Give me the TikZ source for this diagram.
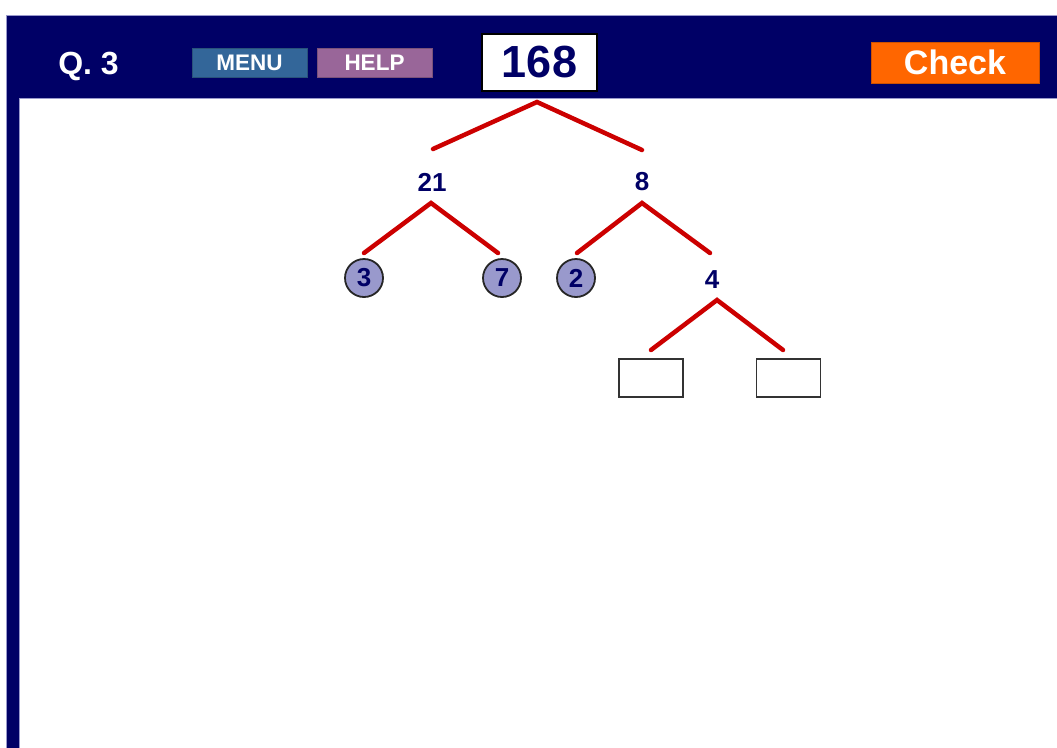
\documentclass[tikz,border=0pt]{standalone}
\usepackage{fontspec}
\setmainfont{Liberation Sans}
\definecolor{navy}{HTML}{000066}
\definecolor{menublue}{HTML}{336699}
\definecolor{helppurple}{HTML}{996699}
\definecolor{checkorange}{HTML}{FF6600}
\definecolor{treered}{HTML}{CC0000}
\definecolor{circfill}{HTML}{9999CC}
\definecolor{rim}{HTML}{9999CC}
\begin{document}
\begin{tikzpicture}[x=1pt,y=-1pt,
  btn/.style={minimum width=115pt,minimum height=29pt,inner sep=0pt,text=white,font=\bfseries\fontsize{22.5}{22.5}\selectfont,draw=#1!80!black,line width=0.6pt,fill=#1},
  branch/.style={treered,line width=4.5pt,line cap=round},
  num/.style={text=navy,font=\bfseries\fontsize{26}{26}\selectfont,inner sep=0pt},
  leaf/.style={circle,draw=black!85,line width=1.8pt,fill=circfill,minimum size=38pt,inner sep=0pt,text=navy,font=\bfseries\fontsize{26}{26}\selectfont},
  blank/.style={draw=black!80,line width=1.2pt,fill=white,minimum width=64pt,minimum height=38pt,inner sep=0pt}]
\useasboundingbox (0,0) rectangle (1057,747);
\fill[white] (0,0) rectangle (1057,747);
% frame
\fill[navy,draw=rim,line width=0.6pt] (6,15) rectangle (1060,750);
\fill[white,draw=rim,line width=0.6pt] (19,98) rectangle (1060,750);
% header
\node[text=white,font=\bfseries\fontsize{32}{32}\selectfont,inner sep=0pt,text depth=0pt] (q) at (88.5,63) {Q. 3};
\node[btn=menublue] (menu) at (249.5,62.5) {MENU};
\node[btn=helppurple] (help) at (374.5,62.5) {HELP};
\node[draw=black,line width=1.2pt,fill=white,minimum width=115pt,minimum height=57pt,inner sep=0pt,text=navy,font=\bfseries\fontsize{45}{45}\selectfont] (root) at (539.5,62.5) {168};
\node[fill=checkorange,draw=checkorange!80!black,line width=0.6pt,minimum width=168pt,minimum height=41pt,inner sep=0pt,text=white,font=\bfseries\fontsize{34}{34}\selectfont] (check) at (955,62.5) {Check};
% tree nodes
\node[num] (n21) at (432,182) {21};
\node[num] (n8) at (642,182) {8};
\node[leaf] (n3) at (364,278) {3};
\node[leaf] (n7) at (502,278) {7};
\node[leaf] (n2) at (576,278) {2};
\node[num] (n4) at (712,280) {4};
\node[blank] (b1) at (651,378) {};
\node[blank] (b2) at (788.5,378) {};
% branch points
\coordinate (a0) at (537,102);
\coordinate (e21) at (433,149);
\coordinate (e8) at (642,150);
\coordinate (a21) at (431,203);
\coordinate (e3) at (364,253);
\coordinate (e7) at (498,253);
\coordinate (a8) at (642,203);
\coordinate (e2) at (577,253);
\coordinate (e4) at (710,253);
\coordinate (a4) at (717,300);
\coordinate (eb1) at (651,350);
\coordinate (eb2) at (783,350);
\draw[branch] (e21) -- (a0) -- (e8);
\draw[branch] (e3) -- (a21) -- (e7);
\draw[branch] (e2) -- (a8) -- (e4);
\draw[branch] (eb1) -- (a4) -- (eb2);
\end{tikzpicture}
\end{document}
